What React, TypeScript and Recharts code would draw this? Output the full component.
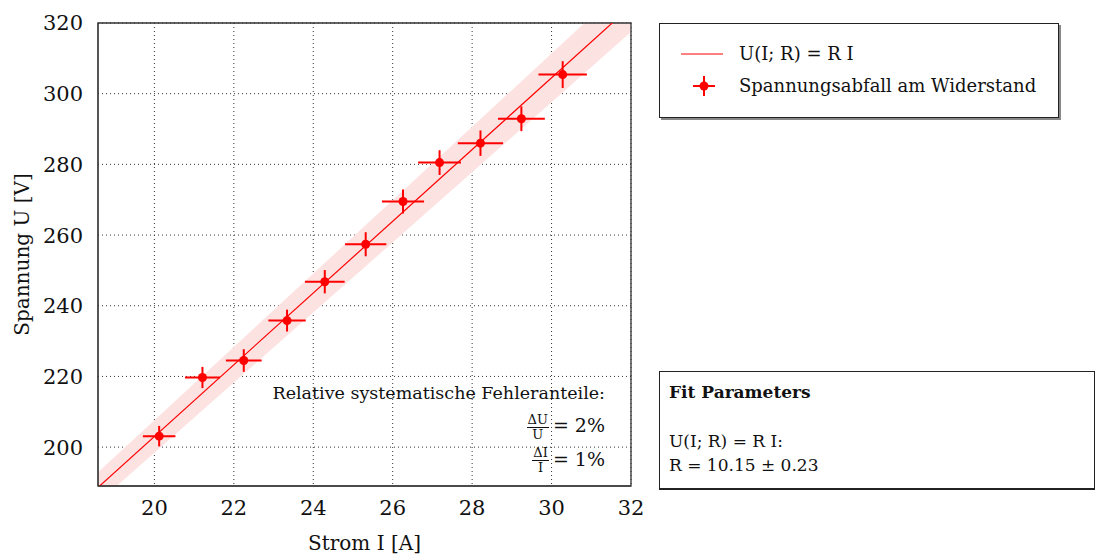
import { ComposedChart, Line, Area, Scatter, ErrorBar, XAxis, YAxis, CartesianGrid, ReferenceArea } from "recharts";

// measured current I [A] and voltage U [V] with their error bars
const strom = [20.12, 21.21, 22.25, 23.34, 24.29, 25.32, 26.26, 27.18, 28.21, 29.24, 30.28];
const spannung = [203.1, 219.7, 224.5, 235.8, 246.8, 257.4, 269.5, 280.5, 286.0, 292.9, 305.4];
const stromErr = [0.41, 0.44, 0.45, 0.47, 0.5, 0.52, 0.53, 0.54, 0.57, 0.59, 0.61];
const spannungErr = [2.9, 3.0, 3.2, 3.1, 3.3, 3.4, 3.4, 3.5, 3.6, 3.5, 3.8];

// fit result U(I; R) = R I
const fitR = 10.15;
const fitRErr = 0.23;
const fitRange = [18.4, 32.2];

const xTicks = [20, 22, 24, 26, 28, 30, 32];
const yTicks = [200, 220, 240, 260, 280, 300, 320];

const points = strom.map((I, i) => ({ I, U: spannung[i], ex: stromErr[i], ey: spannungErr[i] }));
const fitLine = fitRange.map((I) => ({ I, fit: fitR * I }));
const fitBand = fitRange.map((I) => ({ I, band: [(fitR - fitRErr) * I, (fitR + fitRErr) * I] }));

const FONT = '"DejaVu Serif", "Liberation Serif", serif';
const RED = "#ff0000";

function Frac({ top, bottom }: { top: string; bottom: string }) {
  return (
    <span style={{ display: "inline-flex", flexDirection: "column", alignItems: "center", fontSize: 13, lineHeight: "14px", verticalAlign: "middle", marginRight: 4 }}>
      <span style={{ borderBottom: "1px solid #111", padding: "0 1px" }}>{top}</span>
      <span>{bottom}</span>
    </span>
  );
}

export default function App() {
  return (
    <div style={{ position: "absolute", left: 0, top: 0, width: 1096, height: 554, background: "#fff", fontFamily: FONT, color: "#111" }}>
      <ComposedChart width={660} height={554} margin={{ top: 23, right: 29, left: 0, bottom: 0 }}>
        <CartesianGrid stroke="#333" strokeDasharray="1 3" horizontalValues={yTicks} verticalValues={xTicks} />
        <XAxis
          type="number"
          dataKey="I"
          domain={[18.58, 32]}
          ticks={xTicks}
          allowDataOverflow
          height={68}
          tickLine={false}
          axisLine={{ stroke: "#333" }}
          tickMargin={8}
          tick={{ fontFamily: FONT, fontSize: 21, fill: "#111" }}
          label={{ value: "Strom I [A]", position: "insideBottom", offset: 4, style: { fontFamily: FONT, fontSize: 20, fill: "#111" } }}
        />
        <YAxis
          type="number"
          domain={[189, 320]}
          ticks={yTicks}
          allowDataOverflow
          width={98}
          tickLine={false}
          axisLine={{ stroke: "#333" }}
          tickMargin={9}
          tick={{ fontFamily: FONT, fontSize: 21, fill: "#111" }}
          label={{ value: "Spannung U [V]", angle: -90, position: "center", dx: -27, style: { fontFamily: FONT, fontSize: 20, fill: "#111" } }}
        />
        <Area data={fitBand} dataKey="band" stroke="none" fill="#fde2e2" fillOpacity={1} isAnimationActive={false} />
        <Line data={fitLine} dataKey="fit" stroke={RED} strokeWidth={1.2} dot={false} isAnimationActive={false} />
        <Scatter data={points} dataKey="U" fill={RED} isAnimationActive={false}>
          <ErrorBar dataKey="ex" direction="x" width={0} stroke={RED} strokeWidth={2} />
          <ErrorBar dataKey="ey" direction="y" width={0} stroke={RED} strokeWidth={2} />
        </Scatter>
        <ReferenceArea x1={18.58} x2={32} y1={189} y2={320} fill="none" stroke="#333" strokeWidth={1.3} />
      </ComposedChart>

      {/* note inside the plot */}
      <div style={{ position: "absolute", right: 1096 - 605, top: 380, textAlign: "right", fontSize: 17.5, lineHeight: "26px", whiteSpace: "nowrap" }}>
        <div>Relative systematische Fehleranteile:</div>
        <div style={{ marginTop: 6, fontSize: 19 }}>
          <Frac top="ΔU" bottom="U" />= 2%
        </div>
        <div style={{ marginTop: 4, fontSize: 19 }}>
          <Frac top="ΔI" bottom="I" />= 1%
        </div>
      </div>

      {/* legend */}
      <div style={{ position: "absolute", left: 659, top: 23, width: 398, height: 93, border: "1px solid #222", boxShadow: "2px 2px 0 #888", background: "#fff" }}>
        <svg width={80} height={93} style={{ position: "absolute", left: 0, top: 0 }}>
          <line x1={21} x2={63} y1={30} y2={30} stroke={RED} strokeWidth={1} />
          <line x1={33} x2={55} y1={62} y2={62} stroke={RED} strokeWidth={2} />
          <line x1={44} x2={44} y1={52} y2={72} stroke={RED} strokeWidth={2} />
          <circle cx={44} cy={62} r={4.5} fill={RED} />
        </svg>
        <div style={{ position: "absolute", left: 79, top: 17, fontSize: 18, lineHeight: "26px", whiteSpace: "nowrap" }}>U(I; R) = R I</div>
        <div style={{ position: "absolute", left: 79, top: 49, fontSize: 18, lineHeight: "26px", whiteSpace: "nowrap" }}>Spannungsabfall am Widerstand</div>
      </div>

      {/* fit parameter box */}
      <div style={{ position: "absolute", left: 659, top: 371, width: 434, height: 116, border: "1px solid #222", borderBottomWidth: 2, background: "#fff" }}>
        <div style={{ position: "absolute", left: 9, top: 10, fontSize: 17, fontWeight: "bold", whiteSpace: "nowrap" }}>Fit Parameters</div>
        <div style={{ position: "absolute", left: 9, top: 57, fontSize: 17, lineHeight: "24px", whiteSpace: "nowrap" }}>
          <div>U(I; R) = R I:</div>
          <div>R = {fitR.toFixed(2)} ± {fitRErr.toFixed(2)}</div>
        </div>
      </div>
    </div>
  );
}
